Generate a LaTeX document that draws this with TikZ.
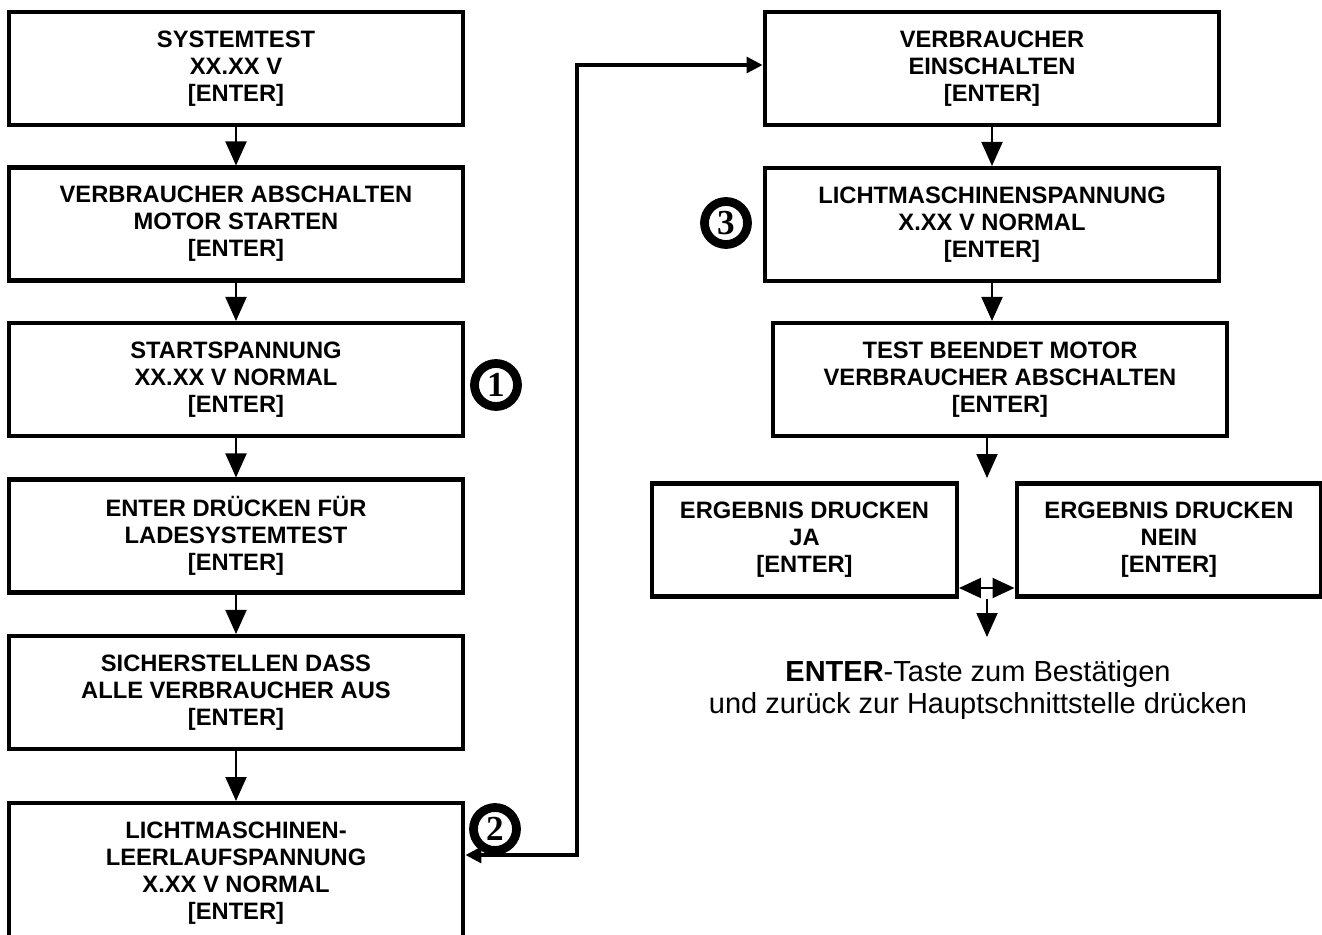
\documentclass[tikz,border=0pt]{standalone}
\usepackage{fontspec}
\setmainfont{Liberation Sans}
\newfontfamily\ziffer{Liberation Serif}
\usetikzlibrary{arrows.meta}

\tikzset{
  kasten/.style={draw, line width=2.3pt, minimum width=9.1cm, minimum height=2.26cm,
    inner sep=0pt, align=center, font=\bfseries\fontsize{13.5}{15.3}\selectfont},
  kurz/.style={kasten, minimum width=6.1cm},
  pfeil/.style={line width=1.1pt, -{Triangle[length=0.48cm, width=0.42cm]}},
  doppel/.style={line width=1.1pt, {Triangle[length=0.44cm, width=0.4cm]}-{Triangle[length=0.44cm, width=0.4cm]}},
  rueck/.style={line width=1.8pt, {Triangle[length=0.32cm, width=0.32cm]}-{Triangle[length=0.32cm, width=0.32cm]}},
  nummer/.style={circle, draw, line width=5pt, minimum size=0.86cm, inner sep=0pt,
    font=\ziffer\bfseries\fontsize{20}{20}\selectfont}
}

\begin{document}
\begin{tikzpicture}[x=0.02cm, y=-0.02cm]
  \path[use as bounding box, clip] (0,0) rectangle (1322,935);

  % linke Spalte
  \node[kasten] (sys)   at (236,68.5) {SYSTEMTEST\\XX.XX V\\{[ENTER]}};
  \node[kasten] (abs)   at (236,224)  {VERBRAUCHER ABSCHALTEN\\MOTOR STARTEN\\{[ENTER]}};
  \node[kasten] (start) at (236,379.5) {STARTSPANNUNG\\XX.XX V NORMAL\\{[ENTER]}};
  \node[kasten] (lade)  at (236,536)  {ENTER DRÜCKEN FÜR\\LADESYSTEMTEST\\{[ENTER]}};
  \node[kasten] (aus)   at (236,692.5) {SICHERSTELLEN DASS\\ALLE VERBRAUCHER AUS\\{[ENTER]}};
  \node[kasten, minimum height=2.8cm] (leer) at (236,873)
    {LICHTMASCHINEN-\\LEERLAUFSPANNUNG\\X.XX V NORMAL\\{[ENTER]}};

  % rechte Spalte
  \node[kasten] (ein)   at (992,68.5) {VERBRAUCHER\\EINSCHALTEN\\{[ENTER]}};
  \node[kasten] (licht) at (992,224.5) {LICHTMASCHINENSPANNUNG\\X.XX V NORMAL\\{[ENTER]}};
  \node[kasten] (ende)  at (1000,379.5) {TEST BEENDET MOTOR\\VERBRAUCHER ABSCHALTEN\\{[ENTER]}};
  \node[kurz] (ja)   at (804.5,540) {ERGEBNIS DRUCKEN\\JA\\{[ENTER]}};
  \node[kurz] (nein) at (1169,540)  {ERGEBNIS DRUCKEN\\NEIN\\{[ENTER]}};

  \node[nummer] (n1) at (496,385) {1};
  \node[nummer] (n2) at (495,829) {2};
  \node[nummer] (n3) at (726,223) {3};

  \node[align=center, font=\fontsize{16.5}{18.3}\selectfont] (hinweis) at (978,690)
    {\textbf{ENTER}-Taste zum Bestätigen\\und zurück zur Hauptschnittstelle drücken};

  \coordinate (ru) at (577,855);
  \coordinate (ro) at (577,65);
  \coordinate (mitte) at (987,478);
  \coordinate (wahl) at (987,588);
  \coordinate (unten) at (987,637);

  \draw[pfeil] (sys.south) -- (abs.north);
  \draw[pfeil] (abs.south) -- (start.north);
  \draw[pfeil] (start.south) -- (lade.north);
  \draw[pfeil] (lade.south) -- (aus.north);
  \draw[pfeil] (aus.south) -- (leer.north);
  \draw[rueck] (leer.east |- ru) -- (ru) -- (ro) -- (ein.west |- ro);
  \draw[pfeil] (ein.south) -- (licht.north);
  \draw[pfeil] (licht.south) -- (licht.south |- ende.north);
  \draw[pfeil] (ende.south -| mitte) -- (mitte);
  \draw[doppel] (ja.east |- wahl) -- (nein.west |- wahl);
  \draw[pfeil] (ja.south -| unten) -- (unten);
\end{tikzpicture}
\end{document}
